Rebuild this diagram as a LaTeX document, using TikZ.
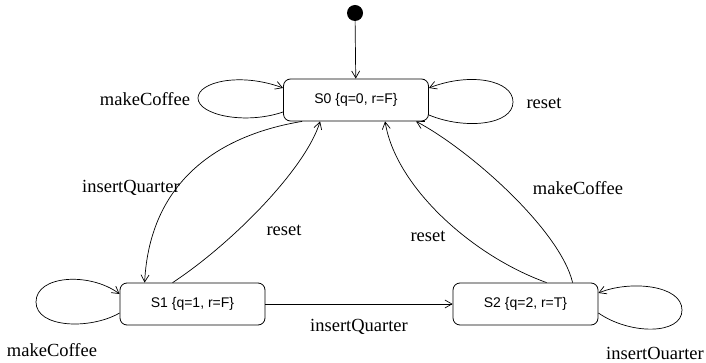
\documentclass[tikz,border=0pt]{standalone}
\usepackage{fontspec}
\setmainfont{Liberation Serif}
\newfontfamily\statefont{Liberation Sans}
\usetikzlibrary{arrows.meta,calc}
\begin{document}
\begin{tikzpicture}[x=1pt,y=1pt,
  state/.style={draw, rounded corners=7pt, minimum width=145pt, minimum height=42pt, inner sep=0pt, line width=0.8pt, font=\statefont\fontsize{14}{16}\selectfont},
  lbl/.style={font=\fontsize{18.5}{20}\selectfont, inner sep=0pt},
  tr/.style={line width=0.7pt, -{Straight Barb[length=7pt,width=8pt]}},
  loopline/.style={line width=0.7pt},
]
\useasboundingbox (0,0) rectangle (706,-363);
% states
\node[circle, fill, inner sep=0pt, minimum size=16pt] (init) at (355,-13) {};
\node[state] (s0) at (356,-100) {S0 \{q=0, r=F\}};
\node[state] (s1) at (192.5,-304) {S1 \{q=1, r=F\}};
\node[state] (s2) at (525.5,-304) {S2 \{q=2, r=T\}};
% initial
\draw[tr] (init) -- (s0);
% self loops
\draw[tr] ($(s0.west)+(0,-12)$) .. controls (245,-125) and (198,-115) .. (198,-98)
   .. controls (198,-82) and (240,-72) .. ($(s0.west)+(0,12)$);
\draw[tr] ($(s0.east)+(0,-15)$) .. controls (465,-130) and (513,-125) .. (513,-102)
   .. controls (513,-80) and (470,-72) .. ($(s0.east)+(0,12)$);
\draw[tr] ($(s1.west)+(0,-9)$) .. controls (90,-330) and (36,-328) .. (36,-302)
   .. controls (36,-275) and (90,-272) .. ($(s1.west)+(0,10)$);
\draw[tr] ($(s2.east)+(0,-9)$) .. controls (630,-335) and (682,-335) .. (682,-310)
   .. controls (682,-285) and (630,-280) .. ($(s2.east)+(0,11)$);
% transitions
\draw[tr] ($(s0.south west)+(19,0)$) .. controls (220,-135) and (150,-180) .. ($(s1.north west)+(25,0)$);
\draw[tr] ($(s1.north west)+(53,0)$) .. controls (230,-245) and (305,-170) .. ($(s0.south west)+(37,0)$);
\draw[tr] ($(s2.north west)+(94,0)$) .. controls (470,-255) and (395,-185) .. ($(s0.south west)+(102,0)$);
\draw[tr] ($(s2.north west)+(120,0)$) .. controls (560,-230) and (470,-150) .. ($(s0.south west)+(133,0)$);
\draw[tr] (s1) -- (s2);
% labels
\node[lbl] (l1) at (145,-99) {makeCoffee};
\node[lbl] (l2) at (544,-103) {reset};
\node[lbl] (l3) at (131,-188) {insertQuarter};
\node[lbl] (l4) at (284,-230) {reset};
\node[lbl] (l5) at (428,-236) {reset};
\node[lbl] (l6) at (578,-188) {makeCoffee};
\node[lbl] (l7) at (359,-327) {insertQuarter};
\node[lbl] (l8) at (52,-350) {makeCoffee};
\node[lbl] (l9) at (655,-353) {insertOuarter};
\end{tikzpicture}
\end{document}
